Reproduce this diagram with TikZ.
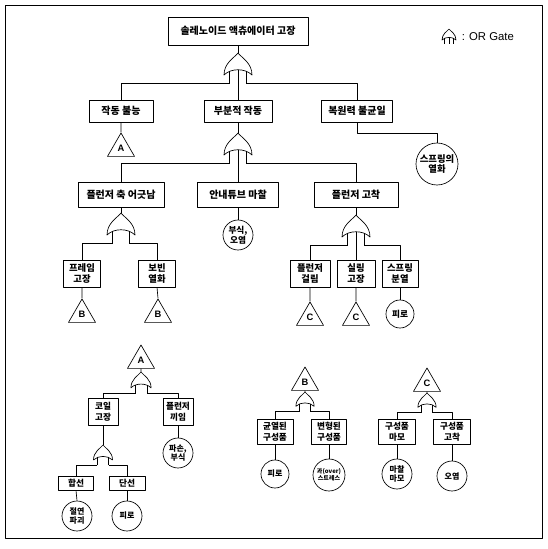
\documentclass[tikz,border=0pt]{standalone}
\usepackage{fontspec}
\setmainfont{Liberation Sans}
\newfontfamily\kr{Noto Sans CJK KR}
\usetikzlibrary{shapes.geometric}
\tikzset{
  event/.style={draw, fill=white, align=center, inner sep=1pt, font=\kr\bfseries\fontsize{7.5}{8.5}\selectfont},
  subevent/.style={event, font=\kr\bfseries\fontsize{6.5}{8}\selectfont},
  basic/.style={draw, circle, fill=white, align=center, inner sep=0pt, font=\kr\bfseries\fontsize{6.5}{7.5}\selectfont},
  smallbasic/.style={basic, font=\kr\bfseries\fontsize{6}{7}\selectfont},
  transfer/.style={draw, fill=white, regular polygon, regular polygon sides=3, inner sep=0pt, minimum size=23.4pt, font=\bfseries\fontsize{7}{8}\selectfont},
  orgate/.pic={
    \draw[fill=white] (0,0) .. controls (-4,5) and (-14,10) .. (-14,22)
      .. controls (-7,15) and (7,15) .. (14,22)
      .. controls (14,10) and (4,5) .. cycle;
    \draw (-8.4,18.3) -- (-8.4,30) coordinate (-l);
    \draw (8.4,18.3) -- (8.4,30) coordinate (-r);
    \coordinate (-t) at (0,0);
    \coordinate (-c) at (0,16.8);
  }
}
\begin{document}
\begin{tikzpicture}[x=0.75pt, y=-0.75pt, line width=0.5pt, line join=round]
  \useasboundingbox (0,0) rectangle (547,549);
  \draw[line width=0.6pt] (5,5) rectangle (542,538);

  % legend
  \pic[scale=0.5] (lg) at (449,29) {orgate};
  \draw (lg-c) -- (lg-c |- lg-l);
  \node[anchor=west, font=\fontsize{8.5}{9}\selectfont] (legend) at (457,37) {: OR Gate};

  % main tree
  \node[event, minimum width=105pt, minimum height=21pt] (topev) at (238,31) {솔레노이드 액츄에이터 고장};
  \pic (g1) at (238,53) {orgate};
  \node[event, minimum width=48pt, minimum height=16.5pt] (stop) at (121,111) {작동 불능};
  \node[event, minimum width=51pt, minimum height=16.5pt] (partial) at (238,111) {부분적 작동};
  \node[event, minimum width=53pt, minimum height=16.5pt] (restore) at (357,111) {복원력 불균일};
  \node[transfer] (A1) at (121,148.6) {A};
  \pic (g2) at (238,133) {orgate};
  \node[basic, minimum size=31.5pt, font=\kr\bfseries\fontsize{7}{8}\selectfont] (springdeg) at (437,164) {스프링의\\열화};

  \node[event, minimum width=64.5pt, minimum height=18.75pt] (misalign) at (121,195) {플런저 축 어긋남};
  \node[event, minimum width=61pt, minimum height=18.75pt] (tube) at (238,195) {안내튜브 마찰};
  \node[event, minimum width=63pt, minimum height=18.75pt] (stick) at (356,195) {플런저 고착};
  \node[basic, minimum size=22.5pt] (corrosion) at (238,235) {부식,\\오염};
  \pic (g3) at (121,213) {orgate};
  \pic (g4) at (356,215) {orgate};

  \node[event, minimum width=28pt, minimum height=20pt, font=\kr\bfseries\fontsize{7}{8.5}\selectfont] (frame) at (82,273.5) {프레임\\고장};
  \node[event, minimum width=28pt, minimum height=20pt, font=\kr\bfseries\fontsize{7}{8.5}\selectfont] (bobbin) at (157,273.5) {보빈\\열화};
  \node[event, minimum width=30pt, minimum height=20pt, font=\kr\bfseries\fontsize{7}{8.5}\selectfont] (catch) at (310,273.5) {플런저\\걸림};
  \node[event, minimum width=28.5pt, minimum height=20pt, font=\kr\bfseries\fontsize{7}{8.5}\selectfont] (seal) at (356,273.5) {실링\\고장};
  \node[event, minimum width=27pt, minimum height=20pt, font=\kr\bfseries\fontsize{7}{8.5}\selectfont] (springb) at (400,273.5) {스프링\\분열};
  \node[transfer] (B1) at (82,314.6) {B};
  \node[transfer] (B2) at (158,314.6) {B};
  \node[transfer] (C1) at (310,317.6) {C};
  \node[transfer] (C2) at (356,317.6) {C};
  \node[basic, minimum size=21pt] (fat1) at (400,314) {피로};

  \draw (topev.south) -- (g1-t);
  \draw (g1-l) -| (stop.north);
  \draw (g1-c) -- (partial.north);
  \draw (g1-r) -| (restore.north);
  \draw (stop.south) -- (A1.north);
  \draw (partial.south) -- (g2-t);
  \draw (restore.south) -- ++(0,11) -| (springdeg.north);
  \draw (g2-l) -| (misalign.north);
  \draw (g2-c) -- (tube.north);
  \draw (g2-r) -| (stick.north);
  \draw (tube.south) -- (corrosion.north);
  \draw (misalign.south) -- (g3-t);
  \draw (g3-l) -| (frame.north);
  \draw (g3-r) -| (bobbin.north);
  \draw (stick.south) -- (g4-t);
  \draw (g4-l) -| (catch.north);
  \draw (g4-c) -- (seal.north);
  \draw (g4-r) -| (springb.north);
  \draw (frame.south) -- (B1.north);
  \draw (bobbin.south) -- (B2.north);
  \draw (catch.south) -- (C1.north);
  \draw (seal.south) -- (C2.north);
  \draw (springb.south) -- (fat1.north);

  % transfer A
  \node[transfer] (Atop) at (141,360.6) {A};
  \pic[scale=0.72] (gA) at (141,372) {orgate};
  \node[subevent, minimum width=22.5pt, minimum height=20pt] (coil) at (103,412) {코일\\고장};
  \node[subevent, minimum width=22.5pt, minimum height=20pt] (jam) at (178,412) {플런저\\끼임};
  \pic[scale=0.68] (gcoil) at (103,445) {orgate};
  \node[subevent, minimum width=26pt, minimum height=10.5pt] (short) at (76,483) {합선};
  \node[subevent, minimum width=27pt, minimum height=10.5pt] (open) at (127,483) {단선};
  \node[smallbasic, minimum size=22.5pt] (insul) at (77,516) {절연\\파괴};
  \node[smallbasic, minimum size=22.5pt] (fat2) at (127,516) {피로};
  \node[smallbasic, minimum size=22.5pt] (break) at (178,453) {파손,\\부식};
  \draw (Atop.south) -- (gA-t);
  \draw (gA-l) -| (coil.north);
  \draw (gA-r) -| (jam.north);
  \draw (coil.south) -- (gcoil-t);
  \draw (gcoil-l) -| (short.north);
  \draw (gcoil-r) -| (open.north);
  \draw (short.south) -- (insul.north);
  \draw (open.south) -- (fat2.north);
  \draw (jam.south) -- (break.north);

  % transfer B
  \node[transfer] (Btop) at (305,382.6) {B};
  \pic[scale=0.65] (gB) at (305,392) {orgate};
  \node[subevent, minimum width=27pt, minimum height=19pt] (crack) at (275,432) {균열된\\구성품};
  \node[subevent, minimum width=26pt, minimum height=19pt] (deform) at (329,432) {변형된\\구성품};
  \node[smallbasic, minimum size=21pt] (fat3) at (275,474) {피로};
  \node[basic, minimum size=24pt, font=\kr\bfseries\fontsize{4.5}{5.5}\selectfont] (over) at (329,475) {과(over)\\스트레스};
  \draw (Btop.south) -- (gB-t);
  \draw (gB-l) -| (crack.north);
  \draw (gB-r) -| (deform.north);
  \draw (crack.south) -- (fat3.north);
  \draw (deform.south) -- (over.north);

  % transfer C
  \node[transfer] (Ctop) at (427,383.6) {C};
  \pic[scale=0.65] (gC) at (427,393) {orgate};
  \node[subevent, minimum width=28pt, minimum height=19pt] (wear) at (397,432) {구성품\\마모};
  \node[subevent, minimum width=28pt, minimum height=19pt] (fix) at (452,432) {구성품\\고착};
  \node[smallbasic, minimum size=22.5pt] (friction) at (397,474) {마찰\\마모};
  \node[smallbasic, minimum size=22.5pt] (contam) at (452,476) {오염};
  \draw (Ctop.south) -- (gC-t);
  \draw (gC-l) -| (wear.north);
  \draw (gC-r) -| (fix.north);
  \draw (wear.south) -- (friction.north);
  \draw (fix.south) -- (contam.north);
\end{tikzpicture}
\end{document}
